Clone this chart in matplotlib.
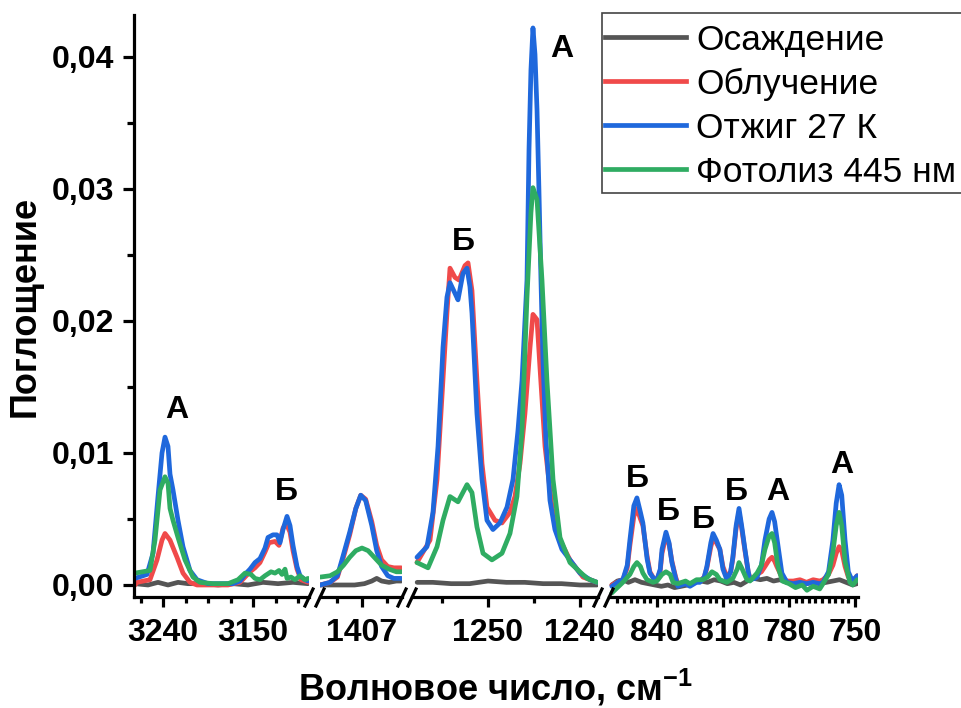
import matplotlib
matplotlib.use('Agg')
import matplotlib.pyplot as plt
from matplotlib.ticker import FixedLocator, FuncFormatter
from matplotlib.lines import Line2D
from matplotlib.patches import Rectangle

plt.rcParams['font.family'] = ['Liberation Sans', 'DejaVu Sans']
plt.rcParams['mathtext.fontset'] = 'custom'
plt.rcParams['mathtext.rm'] = 'Liberation Sans:bold'
plt.rcParams['mathtext.bf'] = 'Liberation Sans:bold'

# ---------------- data ----------------
series_names = ['Осаждение', 'Облучение', 'Отжиг 27 К', 'Фотолиз 445 нм']
series_colors = ['#555555', '#f04a4a', '#1f68dc', '#2fac62']

# window 1: 3269-3094 cm-1
dep_x1 = [3268, 3255, 3245, 3235, 3225, 3215, 3200, 3185, 3170, 3155, 3140, 3125, 3110, 3095]
dep_y1 = [0.0001, 0.0000, 0.0002, 0.0000, 0.0002, 0.0001, 0.0001, 0.0000, 0.0001, 0.0000, 0.0002, 0.0001, 0.0002, 0.0001]
irr_x1 = [3268, 3266, 3253, 3246, 3241, 3238, 3233, 3226, 3220, 3213, 3206, 3190, 3175, 3163, 3158,
          3153, 3148, 3143, 3138, 3134, 3128, 3124, 3120, 3117, 3113, 3110, 3106, 3102, 3095]
irr_y1 = [0.0000, 0.0002, 0.0004, 0.0019, 0.0034, 0.0039, 0.0034, 0.0021, 0.0009, 0.0002, 0.0000,
          0.0000, 0.0000, 0.0002, 0.0006, 0.0010, 0.0013, 0.0017, 0.0025, 0.0032, 0.0033, 0.0030, 0.0043,
          0.0047, 0.0040, 0.0026, 0.0012, 0.0004, 0.0002]
ann_x1 = [3268, 3256, 3250, 3245, 3241, 3238, 3235, 3233, 3230, 3225, 3220, 3213, 3206, 3195,
          3180, 3170, 3163, 3158, 3153, 3148, 3143, 3138, 3135, 3130, 3126, 3123, 3120, 3116, 3113, 3110,
          3106, 3103, 3098, 3095]
ann_y1 = [0.0005, 0.0008, 0.0024, 0.0067, 0.0100, 0.0112, 0.0105, 0.0084, 0.0072, 0.0049, 0.0029,
          0.0011, 0.0004, 0.0001, 0.0001, 0.0001, 0.0003, 0.0008, 0.0012, 0.0017, 0.0020, 0.0028,
          0.0036, 0.0038, 0.0038, 0.0032, 0.0042, 0.0052, 0.0045, 0.0030, 0.0014, 0.0007, 0.0004, 0.0003]
pho_x1 = [3268, 3253, 3248, 3243, 3238, 3235, 3233, 3230, 3225, 3218, 3210, 3203, 3190,
          3175, 3165, 3158, 3152, 3148, 3143, 3138, 3132, 3128, 3124, 3121, 3118, 3116, 3112, 3108, 3103,
          3098, 3095]
pho_y1 = [0.0009, 0.0011, 0.0034, 0.0072, 0.0082, 0.0077, 0.0058, 0.0049, 0.0036, 0.0019, 0.0006,
          0.0002, 0.0001, 0.0001, 0.0004, 0.0009, 0.0008, 0.0005, 0.0004, 0.0007, 0.0010,
          0.0009, 0.0011, 0.0008, 0.0012, 0.0005, 0.0006, 0.0004, 0.0007, 0.0004, 0.0005]

# window 2: around 1407 cm-1
dep_x2 = [1408.7, 1408.0, 1407.3, 1406.9, 1406.6, 1406.4, 1406.2, 1405.9, 1405.6, 1405.4]
dep_y2 = [0.0000, 0.0000, 0.0000, 0.0001, 0.0003, 0.0005, 0.0003, 0.0002, 0.0003, 0.0003]
irr_x2 = [1408.7, 1408.3, 1408.0, 1407.8, 1407.5, 1407.25, 1407.05, 1406.85, 1406.6, 1406.4, 1406.2,
          1405.95, 1405.7, 1405.4]
irr_y2 = [0.0000, 0.0002, 0.0006, 0.0018, 0.0038, 0.0058, 0.0068, 0.0065, 0.0048, 0.0030, 0.0019,
          0.0014, 0.0013, 0.0013]
ann_x2 = [1408.7, 1408.3, 1408.0, 1407.8, 1407.5, 1407.25, 1407.05, 1406.85, 1406.6, 1406.4, 1406.2,
          1405.95, 1405.7, 1405.4]
ann_y2 = [0.0000, 0.0002, 0.0007, 0.0020, 0.0040, 0.0058, 0.0068, 0.0064, 0.0045, 0.0026, 0.0014,
          0.0007, 0.0005, 0.0005]
pho_x2 = [1408.7, 1408.3, 1408.0, 1407.75, 1407.5, 1407.25, 1407.0, 1406.75, 1406.5, 1406.2, 1405.9,
          1405.6, 1405.4]
pho_y2 = [0.0006, 0.0007, 0.0010, 0.0015, 0.0021, 0.0026, 0.0028, 0.0026, 0.0021, 0.0015, 0.0012,
          0.0010, 0.0010]

# window 3: 1258-1238 cm-1
dep_x3 = [1257.7, 1256, 1254, 1252, 1250, 1248, 1246, 1244, 1242, 1240, 1238.15]
dep_y3 = [0.0002, 0.0002, 0.0001, 0.0001, 0.0003, 0.0002, 0.0002, 0.0001, 0.0001, 0.0000, 0.0000]
irr_x3 = [1257.72, 1256.30, 1255.54, 1255.0, 1254.46, 1254.13, 1253.59, 1253.15, 1252.5, 1252.17,
          1251.74, 1251.2, 1250.65, 1250.11, 1249.24, 1248.48, 1247.61, 1247.07, 1246.52, 1245.98,
          1245.43, 1245.11, 1244.67, 1244.35, 1243.80, 1243.04, 1242.17, 1241.09, 1239.67, 1238.15]
irr_y3 = [0.0017, 0.0034, 0.0080, 0.0143, 0.0206, 0.0240, 0.0233, 0.0231, 0.0242, 0.0244,
          0.0223, 0.0155, 0.0092, 0.0059, 0.0049, 0.0047, 0.0055, 0.0067, 0.0092, 0.0130,
          0.0180, 0.0205, 0.0201, 0.0165, 0.0105, 0.0059, 0.0034, 0.0019, 0.0006, 0.0002]
ann_x3 = [1257.72, 1256.63, 1255.98, 1255.43, 1254.89, 1254.46, 1254.13, 1253.59, 1253.26, 1252.72,
          1252.28, 1251.96, 1251.74, 1251.2, 1250.65, 1250.11, 1249.46, 1248.70, 1247.93, 1247.28,
          1246.74, 1246.30, 1245.76, 1245.54, 1245.33, 1245.11, 1244.89, 1244.67, 1244.46, 1244.24,
          1244.02, 1243.70, 1243.26, 1242.72, 1241.96, 1241.09, 1240.0, 1238.91, 1238.15]
ann_y3 = [0.0021, 0.0029, 0.0055, 0.0105, 0.0180, 0.0218, 0.0229, 0.0221, 0.0216, 0.0236,
          0.0240, 0.0226, 0.0206, 0.0130, 0.0080, 0.0049, 0.0042, 0.0047, 0.0059, 0.0080,
          0.0117, 0.0155, 0.0231, 0.0330, 0.0390, 0.0422, 0.0402, 0.0360, 0.0299, 0.0231,
          0.0170, 0.0110, 0.0064, 0.0042, 0.0027, 0.0019, 0.0009, 0.0004, 0.0002]
pho_x3 = [1257.72, 1256.52, 1255.54, 1254.89, 1254.13, 1253.26, 1252.28, 1251.74, 1251.2, 1250.54,
          1249.57, 1248.48, 1247.61, 1246.85, 1246.3, 1245.76, 1245.33, 1245.11, 1244.67, 1244.13,
          1243.59, 1242.93, 1242.17, 1241.09, 1239.24, 1238.15]
pho_y3 = [0.0017, 0.0013, 0.0029, 0.0049, 0.0067, 0.0063, 0.0076, 0.0070, 0.0044, 0.0024,
          0.0019, 0.0024, 0.0039, 0.0067, 0.0117, 0.0218, 0.0282, 0.0301, 0.0292, 0.0231,
          0.0155, 0.0080, 0.0036, 0.0017, 0.0005, 0.0002]

# window 4: 862-749 cm-1
dep_x4 = [860.5, 858, 855.5, 853, 850, 847, 844, 841, 838, 835, 832, 829, 826, 823, 820, 817, 814, 811,
          808, 805, 802, 799, 796, 793, 790, 787, 784, 781, 778, 775, 772, 769, 766, 763, 760, 757, 754,
          751, 749]
dep_y4 = [0.0000, 0.0003, 0.0004, 0.0002, 0.0004, 0.0002, 0.0001, 0.0000, -0.0001, 0.0000, -0.0002,
          -0.0001, 0.0000, 0.0002, 0.0003, 0.0002, 0.0004, 0.0003, 0.0001, 0.0002, 0.0000, 0.0003,
          0.0005, 0.0004, 0.0005, 0.0003, 0.0004, 0.0002, 0.0001, 0.0000, 0.0001, 0.0002, 0.0001,
          0.0002, 0.0003, 0.0004, 0.0002, 0.0000, 0.0001]
irr_x4 = [860.5, 857, 855.5, 853.5, 852.3, 850.5, 849.1, 847.5, 846.4, 844.5, 843.2, 841.5, 840, 838.5,
          837.7, 835.9, 834.5, 833.2, 831.5, 830.5, 827, 825, 822, 820.5, 818.5, 817.3, 815.5, 814.5,
          813, 811.4, 810, 808.2, 806.5, 805.5, 804, 802.7, 801.5, 800, 798.5, 797.7, 795.5, 794.5,
          792.5, 790.9, 789, 787.7, 786.5, 785.5, 783.2, 780.9, 778, 775, 772, 769, 766, 764.5, 762,
          760, 758.5, 757.2, 756, 754.5, 753, 751.4, 750, 749]
irr_y4 = [0.0000, 0.0003, 0.0004, 0.0013, 0.0030, 0.0052, 0.0058, 0.0050, 0.0045, 0.0022, 0.0010,
          0.0005, 0.0004, 0.0011, 0.0024, 0.0037, 0.0031, 0.0018, 0.0006, 0.0001, 0.0002, 0.0000,
          0.0003, 0.0003, 0.0006, 0.0013, 0.0029, 0.0035, 0.0032, 0.0027, 0.0014, 0.0006, 0.0010,
          0.0020, 0.0043, 0.0055, 0.0043, 0.0026, 0.0010, 0.0005, 0.0006, 0.0008, 0.0010, 0.0014,
          0.0019, 0.0021, 0.0018, 0.0014, 0.0006, 0.0003, 0.0003, 0.0004, 0.0002, 0.0004, 0.0003,
          0.0004, 0.0008, 0.0015, 0.0024, 0.0029, 0.0026, 0.0014, 0.0006, 0.0004, 0.0005, 0.0007]
ann_x4 = [860.5, 857, 855.5, 853.5, 852.3, 850.5, 849.1, 847.5, 846.4, 844.5, 843.2, 841.5, 840, 838.5,
          837.7, 835.9, 834.5, 833.2, 831.5, 830.5, 827, 825, 822, 820.5, 818.5, 817.3, 815.5, 814.5,
          813, 811.4, 810, 808.2, 806.5, 805.5, 804, 802.7, 801.5, 800, 798.5, 797.7, 795.5, 794.5,
          792.5, 790.9, 789, 787.7, 786.5, 785.5, 783.2, 780.9, 778, 775, 772, 769, 766, 764.5, 762,
          760, 758.5, 757.2, 756, 754.5, 753, 751.4, 750, 749]
ann_y4 = [-0.0001, 0.0003, 0.0004, 0.0015, 0.0034, 0.0060, 0.0066, 0.0055, 0.0047, 0.0020, 0.0009,
          0.0005, 0.0004, 0.0012, 0.0027, 0.0040, 0.0032, 0.0017, 0.0005, -0.0001, 0.0001, -0.0001,
          0.0002, 0.0002, 0.0006, 0.0014, 0.0032, 0.0039, 0.0034, 0.0027, 0.0012, 0.0004, 0.0010,
          0.0021, 0.0045, 0.0058, 0.0045, 0.0027, 0.0010, 0.0004, 0.0005, 0.0006, 0.0015, 0.0034,
          0.0050, 0.0055, 0.0048, 0.0036, 0.0009, 0.0002, 0.0001, 0.0002, 0.0001, 0.0002, 0.0001,
          0.0002, 0.0010, 0.0034, 0.0062, 0.0076, 0.0068, 0.0034, 0.0010, 0.0004, 0.0005, 0.0007]
pho_x4 = [860.5, 858, 855.5, 852.3, 850.5, 849.1, 847.5, 846.4, 844.5, 841.8, 840, 837.7, 835.9, 834,
          832.7, 830.5, 827, 825, 822, 819.1, 817, 815, 813, 811.4, 808.2, 805.5, 803.5, 802.7, 801.5,
          799.1, 797.7, 794.5, 792.5, 790.9, 789, 787.7, 786.5, 785, 783, 780, 777, 774, 771.8, 769,
          766, 764.5, 762, 760, 758.5, 757.2, 756, 754.5, 752.3, 751, 750, 749]
pho_y4 = [-0.0006, -0.0002, 0.0002, 0.0008, 0.0014, 0.0017, 0.0014, 0.0009, 0.0004, 0.0002, 0.0003,
          0.0008, 0.0010, 0.0008, 0.0002, 0.0001, 0.0003, 0.0001, 0.0004, 0.0004, 0.0006, 0.0010,
          0.0008, 0.0004, 0.0002, 0.0005, 0.0012, 0.0017, 0.0013, 0.0004, 0.0003, 0.0009, 0.0015,
          0.0027, 0.0037, 0.0039, 0.0032, 0.0014, 0.0003, 0.0001, -0.0002, 0.0000, -0.0004, -0.0001,
          -0.0003, 0.0001, 0.0008, 0.0025, 0.0045, 0.0055, 0.0045, 0.0018, 0.0002, 0.0000, 0.0002,
          0.0004]

# band labels: (window, wavenumber, absorbance, text)
band_labels = [
    (0, 3226, 0.01265, 'А'), (0, 3117, 0.00644, 'Б'),
    (2, 1252.7, 0.0254, 'Б'), (2, 1242.0, 0.0400, 'А'),
    (3, 849.1, 0.00742, 'Б'), (3, 835.0, 0.00492, 'Б'), (3, 819.1, 0.00432, 'Б'),
    (3, 804.1, 0.00644, 'Б'), (3, 785.0, 0.00644, 'А'), (3, 755.9, 0.00848, 'А'),
]

# axis windows
x_limits = [(3269, 3094), (1408.71, 1405.37), (1258.26, 1238.04), (861.8, 748.6)]
major_ticks = [[3240, 3150], [1407], [1250, 1240], [840, 810, 780, 750]]
minor_ticks = [[3262.5, 3217.5, 3195, 3172.5, 3127.5, 3105],
               [1408, 1406],
               [1255, 1245],
               [v for v in range(858, 748, -3) if (v % 30) != 0]]
y_limits = (-0.00091, 0.04318)
y_ticks = [0.00, 0.01, 0.02, 0.03, 0.04]
y_minor = [0.005, 0.015, 0.025, 0.035]

windows = [
    [(dep_x1, dep_y1), (irr_x1, irr_y1), (ann_x1, ann_y1), (pho_x1, pho_y1)],
    [(dep_x2, dep_y2), (irr_x2, irr_y2), (ann_x2, ann_y2), (pho_x2, pho_y2)],
    [(dep_x3, dep_y3), (irr_x3, irr_y3), (ann_x3, ann_y3), (pho_x3, pho_y3)],
    [(dep_x4, dep_y4), (irr_x4, irr_y4), (ann_x4, ann_y4), (pho_x4, pho_y4)],
]

# ---------------- layout ----------------
W, H = 962, 708
fig = plt.figure(figsize=(W / 100, H / 100), dpi=100)
panel_px = [(134, 309), (320, 402), (412, 598), (609, 858)]
top_px, bot_px = 15, 597

SPINE_W = 2.3
LINE_W = 3.4
TICK_FS = 23

axes = []
for i, (l, r) in enumerate(panel_px):
    ax = fig.add_axes([l / W, 1 - bot_px / H, (r - l) / W, (bot_px - top_px) / H])
    ax.set_xlim(*x_limits[i])
    ax.set_ylim(*y_limits)
    for s in ['top', 'right']:
        ax.spines[s].set_visible(False)
    ax.spines['bottom'].set_linewidth(SPINE_W)
    ax.spines['left'].set_linewidth(SPINE_W)
    ax.xaxis.set_major_locator(FixedLocator(major_ticks[i]))
    ax.xaxis.set_minor_locator(FixedLocator(minor_ticks[i]))
    ax.tick_params(axis='x', which='major', length=7, width=SPINE_W, direction='out',
                   labelsize=TICK_FS, pad=8)
    ax.tick_params(axis='x', which='minor', length=4, width=SPINE_W, direction='out')
    for lab in ax.get_xticklabels():
        lab.set_fontweight('bold')
    if i == 0:
        ax.yaxis.set_major_locator(FixedLocator(y_ticks))
        ax.yaxis.set_minor_locator(FixedLocator(y_minor))
        ax.yaxis.set_major_formatter(FuncFormatter(lambda v, p: f'{v:.2f}'.replace('.', ',')))
        ax.tick_params(axis='y', which='major', length=8, width=SPINE_W, direction='out',
                       labelsize=TICK_FS, pad=6)
        ax.tick_params(axis='y', which='minor', length=5, width=SPINE_W, direction='out')
        for lab in ax.get_yticklabels():
            lab.set_fontweight('bold')
    else:
        ax.spines['left'].set_visible(False)
        ax.set_yticks([])
    ax.patch.set_alpha(0)
    for (xs, ys), c in zip(windows[i], series_colors):
        ax.plot(xs, ys, color=c, lw=LINE_W, solid_joinstyle='round', solid_capstyle='round')
    axes.append(ax)

for win, xv, yv, txt in band_labels:
    axes[win].text(xv, yv, txt, ha='center', va='baseline', fontsize=23,
                   fontweight='bold', clip_on=False)

# break marks on the bottom axis
def slash(xc):
    y0, y1 = bot_px + 9, bot_px - 8
    fig.add_artist(Line2D([(xc - 4) / W, (xc + 4) / W], [1 - y0 / H, 1 - y1 / H],
                          color='black', lw=SPINE_W, transform=fig.transFigure))

for l, r in panel_px:
    if l != panel_px[0][0]:
        slash(l)
    if r != panel_px[-1][1]:
        slash(r)

# axis titles
fig.text(25 / W, 1 - 306 / H, 'Поглощение', rotation=90, ha='center', va='center',
         fontsize=26, fontweight='bold')
fig.text(496 / W, 1 - 701 / H, 'Волновое число, см$^{\\mathbf{-1}}$', ha='center', va='baseline',
         fontsize=26, fontweight='bold')

# legend: frame drawn separately so it runs off the right edge
fig.add_artist(Rectangle((602 / W, 1 - 193 / H), (980 - 602) / W, (193 - 13) / H,
                         transform=fig.transFigure, facecolor='white', edgecolor='#444444',
                         linewidth=1.2, zorder=5))
handles = [Line2D([], [], color=c, lw=LINE_W) for c in series_colors]
leg = fig.legend(handles, series_names, loc='upper left', bbox_to_anchor=(601.5 / W, 1 - 20 / H),
                 bbox_transform=fig.transFigure, fontsize=25.5, frameon=False,
                 borderaxespad=0, borderpad=0.1, handlelength=2.3, handletextpad=0.28,
                 labelspacing=0.31)
leg.set_zorder(6)

fig.savefig('out.png', dpi=100)
